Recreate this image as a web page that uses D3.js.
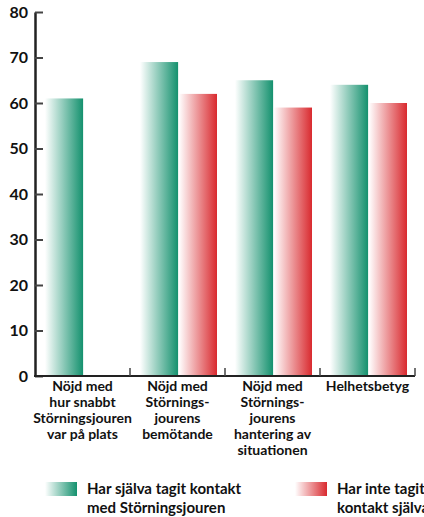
<!DOCTYPE html>
<html>
<head>
<meta charset="utf-8">
<script src="https://cdn.jsdelivr.net/npm/d3@7"></script>
<style>
  body { margin: 0; background: #fff; }
  svg text { font-family: Lato, "Open Sans", sans-serif; font-weight: bold; fill: #111; }
</style>
</head>
<body>
<div id="chart"></div>
<script>
// Categories (multi-line labels), series values, ticks
const categories = [
  ["Nöjd med", "hur snabbt", "Störningsjouren", "var på plats"],
  ["Nöjd med", "Störnings-", "jourens", "bemötande"],
  ["Nöjd med", "Störnings-", "jourens", "hantering av", "situationen"],
  ["Helhetsbetyg"]
];
const seriesNames = ["Har själva tagit kontakt med Störningsjouren", "Har inte tagit kontakt själva"];
const legendLines = [["Har själva tagit kontakt", "med Störningsjouren"], ["Har inte tagit", "kontakt själva"]];
const contacted = [61, 69, 65, 64];
const notContacted = [null, 62, 59, 60];
const yTicks = [0, 10, 20, 30, 40, 50, 60, 70, 80];

const W = 424, H = 517;
const margin = { top: 12, right: 9, bottom: 141, left: 35 };
const width = W - margin.left - margin.right;
const height = H - margin.top - margin.bottom;

const svg = d3.select("#chart")
  .append("svg")
  .attr("width", W)
  .attr("height", H);

// gradients: white on the left, full colour on the right
const defs = svg.append("defs");
const colors = ["#14916e", "#d92a2f"];
colors.forEach((c, i) => {
  const g = defs.append("linearGradient")
    .attr("id", "grad" + i)
    .attr("x1", "0%").attr("x2", "100%")
    .attr("y1", "0%").attr("y2", "0%");
  g.append("stop").attr("offset", "0%").attr("stop-color", "#fff");
  g.append("stop").attr("offset", "100%").attr("stop-color", c);
});

const g = svg.append("g")
  .attr("transform", `translate(${margin.left},${margin.top})`);

const keys = categories.map((d, i) => "c" + i);
const x0 = d3.scaleBand()
  .domain(keys)
  .range([0, width])
  .paddingInner(0)
  .paddingOuter(0);

const x1 = d3.scaleBand()
  .domain([0, 1])
  .range([10, x0.bandwidth() - 8])
  .paddingInner(0.02);

const y = d3.scaleLinear()
  .domain([0, 80])
  .range([height, 0]);

// bars
const rows = keys.map((k, i) => ({ key: k, values: [contacted[i], notContacted[i]] }));
const groups = g.selectAll(".group")
  .data(rows)
  .enter()
  .append("g")
  .attr("class", "group")
  .attr("transform", d => `translate(${x0(d.key)},0)`);

groups.selectAll("rect")
  .data(d => d.values.map((v, j) => ({ v, j })).filter(e => e.v != null))
  .enter()
  .append("rect")
  .attr("x", d => x1(d.j))
  .attr("width", x1.bandwidth())
  .attr("y", d => y(d.v))
  .attr("height", d => height - y(d.v))
  .attr("fill", d => `url(#grad${d.j})`);

// y axis (ticks pointing inward)
const yAxis = g.append("g")
  .call(d3.axisRight(y).tickValues(yTicks).tickSize(8).tickSizeOuter(0).tickFormat(""));
yAxis.select(".domain").attr("stroke", "#222").attr("stroke-width", 2.5);
yAxis.selectAll(".tick line").attr("stroke", "#444").attr("stroke-width", 2);

g.selectAll(".ylab")
  .data(yTicks)
  .enter()
  .append("text")
  .attr("class", "ylab")
  .attr("x", -7)
  .attr("y", d => y(d))
  .attr("dy", "0.36em")
  .attr("text-anchor", "end")
  .attr("font-size", 16)
  .text(d => d);

// x axis with ticks up at band boundaries
g.append("line")
  .attr("x1", -1).attr("x2", width)
  .attr("y1", height).attr("y2", height)
  .attr("stroke", "#222").attr("stroke-width", 2);

g.selectAll(".xtick")
  .data(keys)
  .enter()
  .append("line")
  .attr("x1", d => x0(d) + x0.bandwidth())
  .attr("x2", d => x0(d) + x0.bandwidth())
  .attr("y1", height)
  .attr("y2", height - 8)
  .attr("stroke", "#444")
  .attr("stroke-width", 1.5);

// category labels
categories.forEach((lines, i) => {
  const t = g.append("text")
    .attr("x", x0(keys[i]) + x0.bandwidth() / 2)
    .attr("y", height + 15)
    .attr("text-anchor", "middle")
    .attr("font-size", 14);
  lines.forEach((l, k) => {
    t.append("tspan")
      .attr("x", x0(keys[i]) + x0.bandwidth() / 2)
      .attr("dy", k === 0 ? 0 : 16)
      .text(l);
  });
});

// legend
const legendX = [45, 295];
seriesNames.forEach((name, i) => {
  const lg = svg.append("g")
    .attr("transform", `translate(${legendX[i]},482)`);
  lg.append("rect")
    .attr("width", 32)
    .attr("height", 14)
    .attr("fill", `url(#grad${i})`);
  const t = lg.append("text")
    .attr("x", 42)
    .attr("y", 12)
    .attr("font-size", 15);
  legendLines[i].forEach((l, k) => {
    t.append("tspan")
      .attr("x", 42)
      .attr("dy", k === 0 ? 0 : 19)
      .text(l);
  });
});
</script>
</body>
</html>
